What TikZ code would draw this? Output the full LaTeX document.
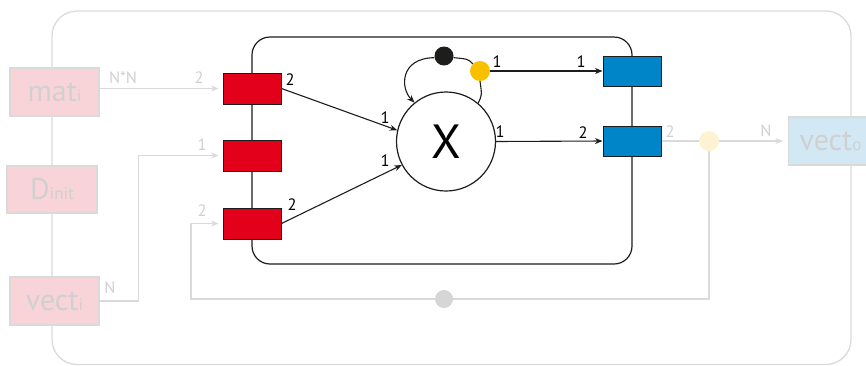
\documentclass[tikz,border=0pt]{standalone}
\usepackage{fontspec}
\setmainfont{PT Sans}
\usetikzlibrary{arrows.meta}
\definecolor{myred}{HTML}{E2001A}
\definecolor{myblue}{HTML}{0085C8}
\definecolor{myyellow}{HTML}{F9C000}
\definecolor{mydark}{HTML}{1D1D1B}
\definecolor{lgray}{HTML}{DADADA}
\definecolor{tgray}{HTML}{D0D0D0}
\definecolor{pinkfill}{HTML}{F8D4D9}
\definecolor{bluefill}{HTML}{D3E8F5}
\definecolor{paleyellow}{HTML}{FDF3D2}
\definecolor{dotgray}{HTML}{D6D6D6}
\newcommand{\subtxt}[1]{{\fontsize{17}{17}\selectfont #1}}
\begin{document}
\begin{tikzpicture}[x=1pt,y=-1pt,
  redbox/.style={draw=mydark, fill=myred, minimum width=58pt, minimum height=31pt, inner sep=0pt, line width=1pt},
  bluebox/.style={draw=mydark, fill=myblue, minimum width=58pt, minimum height=30pt, inner sep=0pt, line width=1pt},
  inbox/.style={draw=lgray, fill=pinkfill, line width=1.2pt, minimum width=89pt, minimum height=48pt, inner sep=0pt, text=tgray, font=\fontsize{30}{30}\selectfont},
  lbl/.style={font=\fontsize{16.5}{16.5}\selectfont, text=black, inner sep=0pt},
  glbl/.style={lbl, text=tgray},
  conn/.style={line width=1.1pt, draw=mydark},
  arr/.style={conn, -{Stealth[length=7.5pt,width=6pt]}},
  gline/.style={line width=1.3pt, draw=lgray},
  garr/.style={gline, -{Stealth[length=7.5pt,width=6pt]}},
  dot/.style={circle, inner sep=0pt, draw=none},
]
\useasboundingbox (0,0) rectangle (866,365);
\clip (0,0) rectangle (866,365);
% frames
\draw[gline, rounded corners=25pt] (52,11) rectangle (851,364.5);
\draw[conn, line width=1.2pt, rounded corners=18pt] (252,37) rectangle (632,264);
% ports
\node[redbox] (r1) at (252,88.5) {};
\node[redbox] (r2) at (252,155.5) {};
\node[redbox] (r3) at (252,223.5) {};
\node[bluebox] (b1) at (632,71) {};
\node[bluebox] (b2) at (632,141) {};
% operator
\node[circle, draw=mydark, line width=1.2pt, fill=white, minimum size=99pt, inner sep=0pt, font=\fontsize{48}{48}\selectfont] (X) at (446,141.5) {X};
\node[dot, fill=mydark, minimum size=19pt] (bd) at (444,56) {};
\node[dot, fill=myyellow, minimum size=20pt] (yd) at (480,71) {};
\node[dot, fill=paleyellow, minimum size=20pt] (py) at (709,141) {};
% outer boxes
\node[inbox] (mat) at (54.5,92) {mat\subtxt{i}};
\node[inbox, minimum width=90pt, minimum height=47pt] (dinit) at (52,189.5) {D\subtxt{init}};
\node[inbox] (vi) at (54.5,301) {vect\subtxt{i}};
\node[inbox, fill=bluefill, anchor=west, minimum width=0pt, text width=80pt, inner xsep=11pt, align=left] (vo) at (788,141) {vect\subtxt{o}};
% gray connectors
\draw[garr, shorten >=4pt] (mat.east |- r1.west) -- (r1.west);
\draw[garr, shorten >=4pt] (vi.east) -- ++(39,0) |- (r2.west);
\draw[gline] (b2.east) -- (py);
\draw[garr, shorten >=5pt] (py) -- (vo.west |- py);
\draw[garr, shorten >=4pt] (py) -- (709,299) -- (191,299) |- (r3.west);
\node[dot, fill=dotgray, minimum size=18pt] (gd) at (444,299) {};
% black connectors
\draw[arr] (r1.east) -- (X.167);
\draw[arr] (r3.east) -- (X.208);
\draw[arr] (yd) -- (b1.west);
\draw[arr] (X.east) -- (b2.west);
\draw[conn] (X.50) .. controls (482,95) .. (yd.south);
\draw[conn] (yd.135) .. controls (468,59) .. (bd.-10);
\draw[arr] (bd.190) .. controls (400,58) and (400,88) .. (X.129);
% labels
\node[glbl] (lnn) at (123,78) {N*N};
\node[glbl] (lg1) at (199,78) {2};
\node[glbl] (lg2) at (202,145) {1};
\node[glbl] (lg3) at (202,211) {2};
\node[glbl] (lgn) at (110,288) {N};
\node[glbl] (lg4) at (670,132) {2};
\node[glbl] (lg5) at (766,131) {N};
\node[lbl] (la) at (290,80) {2};
\node[lbl] (lb) at (385,118) {1};
\node[lbl] (lc) at (292,205) {2};
\node[lbl] (ld) at (385,161) {1};
\node[lbl] (le) at (497,62) {1};
\node[lbl] (lf) at (581,62) {1};
\node[lbl] (lg) at (500,132) {1};
\node[lbl] (lh) at (583,133) {2};
\end{tikzpicture}
\end{document}
